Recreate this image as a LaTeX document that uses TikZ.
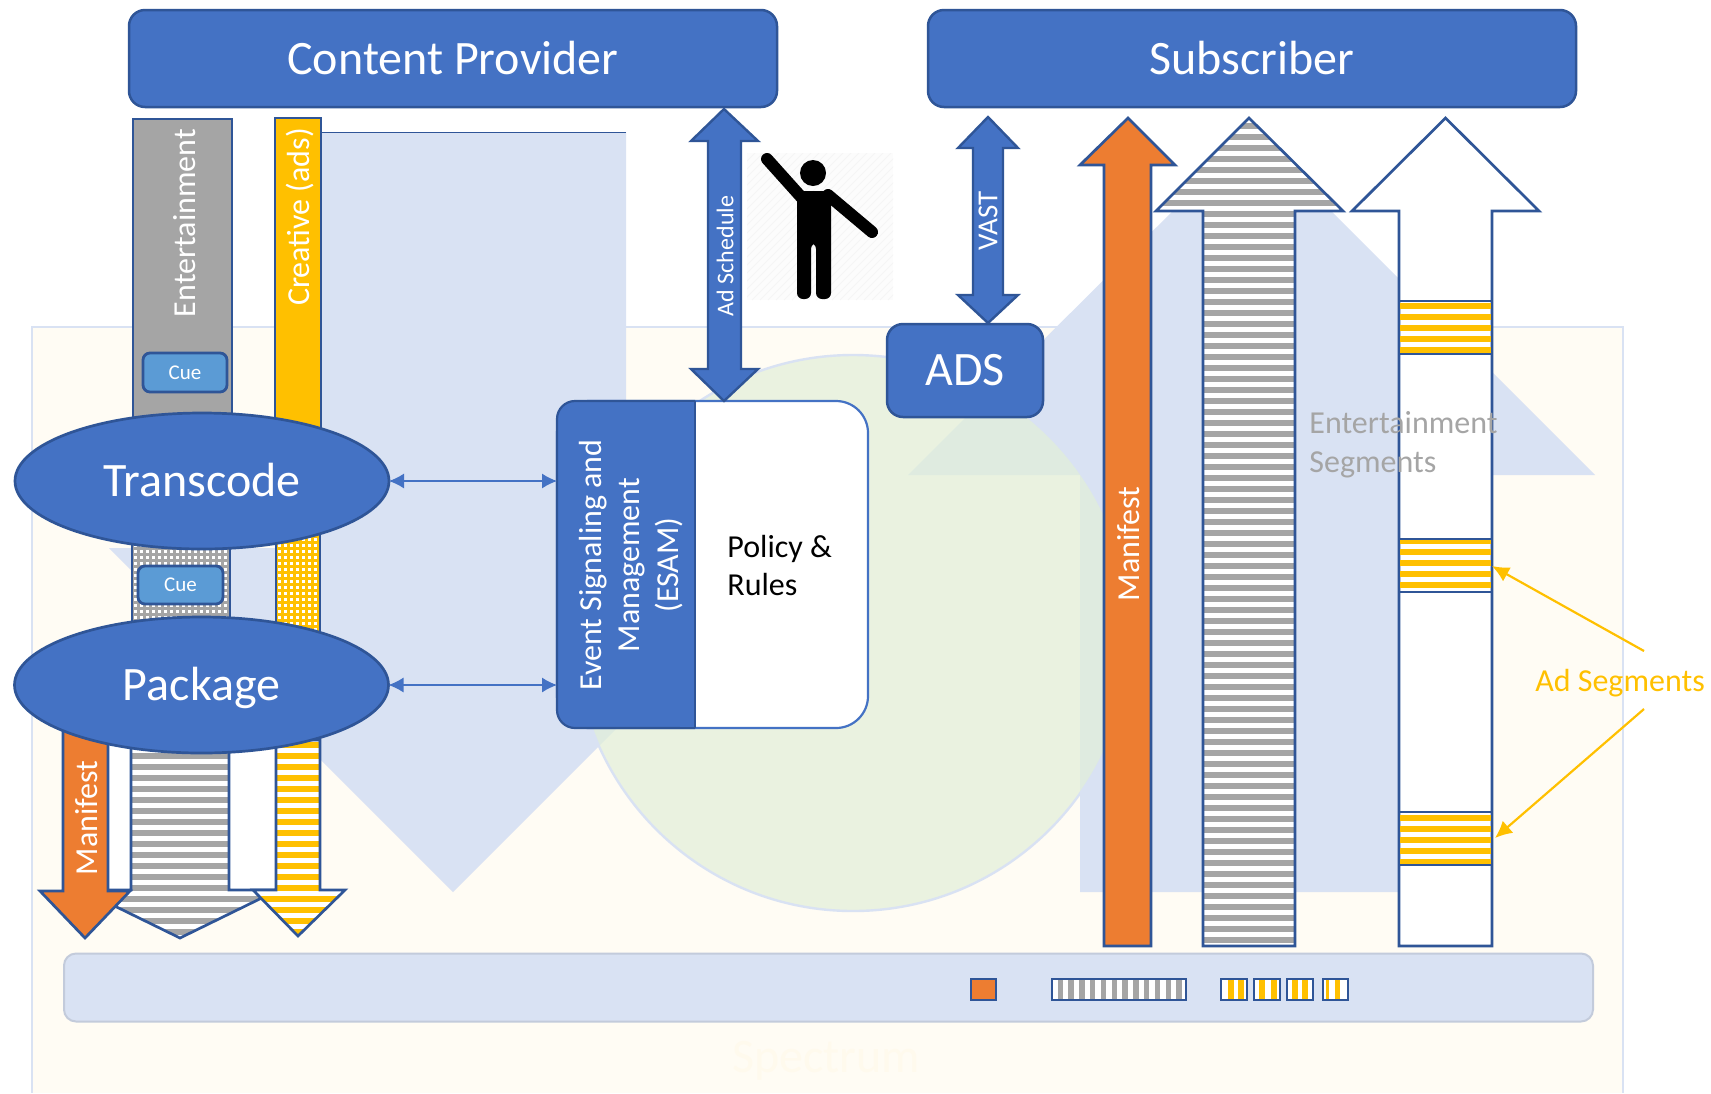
\documentclass[tikz,border=0pt]{standalone}
\usepackage{fontspec}
\setmainfont{Carlito}
\usetikzlibrary{arrows.meta,shapes.geometric,calc}
\definecolor{bdr}{HTML}{2F5597}
\definecolor{blu}{HTML}{4472C4}
\definecolor{lblu}{HTML}{D9E2F3}
\definecolor{cue}{HTML}{5B9BD5}
\definecolor{gry}{HTML}{A5A5A5}
\definecolor{org}{HTML}{ED7D31}
\definecolor{yel}{HTML}{FFC000}
\definecolor{crm}{HTML}{FFFCF4}
\definecolor{grn}{HTML}{E2EFD9}
\newcommand\fs[2][0]{\fontsize{#2}{#2}\selectfont}
\newcommand\hbands[6]{% colour, x0, x1, ystart, yend, height
  \pgfmathsetmacro\fstv{#4}\pgfmathsetmacro\lstv{#5}\pgfmathsetmacro\nxt{\fstv+11}%
  \foreach \yy in {\fstv,\nxt,...,\lstv}{\fill[#1] (#2,\yy-#6/2) rectangle (#3,\yy+#6/2);}}
\newcommand\dotgrid[4]{% x0,x1,y0,y1
  \pgfmathsetmacro\nxa{#1+6}\pgfmathsetmacro\nya{#3+6}%
  \foreach \xx in {#1,\nxa,...,#2}{\foreach \yy in {#3,\nya,...,#4}{\fill[white] (\xx-1.5,\yy-1.5) rectangle (\xx+1.5,\yy+1.5);}}}
\tikzset{
  bar/.style={draw=bdr,line width=1.35pt,line join=miter},
  proc/.style={ellipse,draw=bdr,fill=blu,line width=1.35pt,text=white,minimum width=187pt,minimum height=68pt,inner sep=0pt,outer sep=0pt,font=\fs{24},text height=15pt,text depth=0pt},
  headbox/.style={rectangle,rounded corners=8pt,draw=bdr,fill=blu,line width=1.25pt,text=white,inner sep=0pt,outer sep=0pt,font=\fs{24}},
  cuebox/.style={rectangle,rounded corners=3.5pt,draw=bdr,fill=cue,line width=1.4pt,text=white,inner sep=0pt,font=\fs{10.5}},
  wtxt/.style={text=white,inner sep=0pt,font=\fs{16}},
  twolines/.style={inner sep=0pt,font=\fontsize{16}{19.3}\selectfont},
  thinarrow/.style={draw=blu,line width=.6pt,{Latex[length=7.5pt,width=7.5pt]}-{Latex[length=7.5pt,width=7.5pt]}},
  yelarrow/.style={draw=yel,line width=1.1pt,-{Latex[length=8.5pt,width=8pt]}},
  small/.style={draw=bdr,line width=1.4pt},
}
\def\pManR{(1128,118)--(1175,165)--(1151,165)--(1151,946)--(1104,946)--(1104,165)--(1080,165)--cycle}
\def\pGryR{(1249,118)--(1343,211)--(1295,211)--(1295,946)--(1203,946)--(1203,211)--(1156,211)--cycle}
\def\pWhtR{(1445.5,118)--(1539,211)--(1492,211)--(1492,946)--(1399,946)--(1399,211)--(1352,211)--cycle}
\def\pGryL{(131,740)--(229,740)--(229,890)--(278,890)--(180,938)--(82,890)--(131,890)--cycle}
\def\pYelL{(276,740)--(320,740)--(320,890)--(345,890)--(298,936)--(253,890)--(276,890)--cycle}
\def\pManL{(63,720)--(108,720)--(108,891)--(130,891)--(85,938)--(40,891)--(63,891)--cycle}
\begin{document}
\begin{tikzpicture}[x=0.5pt,y=-0.5pt]
\useasboundingbox (0,0) rectangle (1711,1093);
\fill[white] (0,0) rectangle (1711,1093);
% backdrop
\fill[crm] (32,327) rectangle (1623,1093);
\draw[lblu,line width=1.4pt] (32,1093)--(32,327)--(1623,327)--(1623,1093);
\node[text=crm!97!yel,inner sep=0pt,font=\fs{24}] (spectrum) at (826,1061) {Spectrum};
\fill[lblu] (279,132)--(626,132)--(626,548)--(797,548)--(453,892)--(109,548)--(279,548)--cycle;
\draw[bdr,line width=.5pt] (321,132)--(626,132);
\fill[lblu] (1252,132)--(1595,475)--(1423,475)--(1423,892)--(1080,892)--(1080,475)--(908,475)--cycle;
\fill[grn,fill opacity=.72] (853,633) circle [radius=139pt];
\draw[lblu,line width=1.2pt] (853,633) circle [radius=139pt];
\node[rectangle,rounded corners=6pt,draw=black!10!lblu,fill=lblu,line width=1pt,minimum width=764.5pt,minimum height=34pt,inner sep=0pt] (spectrumbar) at (828.5,987.5) {};
% left column
\draw[bar,fill=gry] (133,119) rectangle (232,470);
\draw[bar,fill=yel] (275,118) rectangle (321,470);
\node[wtxt,rotate=90] (entlabel) at (185,223) {Entertainment};
\node[wtxt,rotate=90] (crelabel) at (300,217) {Creative (ads)};
\node[cuebox,minimum width=42pt,minimum height=19.5pt] (cue1) at (185,372.5) {Cue};
% dotted bars
\begin{scope}
\clip (132,530) rectangle (230,630);
\fill[gry] (132,530) rectangle (230,630);
\dotgrid{135}{230}{533}{630}
\end{scope}
\draw[bar] (132,530)--(132,630) (230,530)--(230,630);
\begin{scope}
\clip (276,530) rectangle (320,640);
\fill[yel] (276,530) rectangle (320,640);
\dotgrid{279}{320}{533}{640}
\end{scope}
\draw[bar] (276,530)--(276,640) (320,530)--(320,640);
\node[cuebox,minimum width=42.5pt,minimum height=19pt] (cue2) at (180.5,585) {Cue};
% lower left arrows
\fill[white] (108,740) rectangle (276,890);
\begin{scope}\clip \pGryL; \fill[white] (60,730) rectangle (300,945); \hbands{gry}{60}{300}{723}{945}{5.5}\end{scope}
\draw[bar] \pGryL;
\begin{scope}\clip \pYelL; \fill[white] (240,730) rectangle (360,945); \hbands{yel}{240}{360}{723}{945}{5.5}\end{scope}
\draw[bar] \pYelL;
\draw[bar,fill=org] \pManL;
\node[wtxt,rotate=90] (manl) at (87,818) {Manifest};
\node[proc] (transcode) at (202,481) {Transcode};
\node[proc] (package) at (201.5,685) {Package};
% ESAM
\node[rectangle,rounded corners=16pt,draw=blu,fill=white,line width=1.1pt,minimum width=155.5pt,minimum height=163.5pt,inner sep=0pt,outer sep=0pt] (esam) at (712.5,564.5) {};
\filldraw[blu,draw=bdr,line width=1.1pt,rounded corners=9pt] (695,401)--(557,401)--(557,728)--(695,728);
\fill[blu] (680,401.5) rectangle (695,727.5);
\draw[bdr,line width=1.1pt] (695,401)--(695,728) (680,401)--(695,401) (680,728)--(695,728);
\node[text=white,rotate=90,align=center,twolines] (esamlabel) at (631,565) {Event Signaling and\\ Management\\ (ESAM)};
\node[text=black,align=left,anchor=west,twolines] (policy) at (727,565.5) {Policy \&\\ Rules};
\draw[thinarrow] (transcode.east) -- (transcode.east -| esam.west);
\draw[thinarrow] (package.east) -- (package.east -| esam.west);
% top boxes
\node[headbox,minimum width=324pt,minimum height=48.5pt] (provider) at (453,58.5) {Content Provider};
\node[headbox,minimum width=324pt,minimum height=48.5pt] (subscriber) at (1252,58.5) {Subscriber};
\node[headbox,minimum width=78pt,minimum height=46.5pt,text height=15pt,text depth=0pt] (ads) at (965,370.5) {ADS};
% double arrows
\draw[bar,fill=blu,line width=1.2pt] (724,109)--(758,141)--(741,141)--(741,369)--(758,369)--(724,401)--(691,369)--(708,369)--(708,141)--(691,141)--cycle;
\node[text=white,rotate=90,inner sep=0pt,font=\fs{12}] (adsched) at (725,256) {Ad Schedule};
\draw[bar,fill=blu,line width=1.2pt] (988,117)--(1018,148)--(1003,148)--(1003,295)--(1018,295)--(988,323)--(958,295)--(973,295)--(973,148)--(958,148)--cycle;
\node[text=white,rotate=90,inner sep=0pt,font=\fs{14.5}] (vast) at (988,221) {VAST};
% person
\begin{scope}
\clip (747,153) rectangle (893,300);
\fill[black!1] (747,153) rectangle (893,300);
\foreach \hx in {600,608,...,900}{\draw[black!4,line width=.4pt] (\hx,300)--(\hx+147,153);}
\end{scope}
\fill[black,rounded corners=3pt] (797,191)--(831,191)--(831,299)--(816,299)--(816,243)--(811,243)--(811,299)--(797,299)--cycle;
\fill[black] (813,173) circle [radius=6.5pt];
\draw[black,line width=6pt,line cap=round] (767,159)--(802,198);
\draw[black,line width=6pt,line cap=round] (828,195)--(872,232);
% right arrows
\draw[bar,fill=org] \pManR;
\node[wtxt,rotate=90] (manr) at (1129,544) {Manifest};
\begin{scope}\clip \pGryR; \fill[white] (1150,110) rectangle (1350,950); \hbands{gry}{1150}{1350}{126}{950}{5.5}\end{scope}
\draw[bar] \pGryR;
\draw[bar,fill=white] \pWhtR;
\foreach \st/\off in {301/5,539/2,812/6}{
  \begin{scope}
  \clip (1399,\st) rectangle (1492,\st+53);
  \hbands{yel}{1399}{1492}{\st+\off}{\st+53}{5.2}
  \end{scope}
  \draw[bar,line width=1.1pt] (1399,\st) rectangle (1492,\st+53);
}
\coordinate (seg2) at (1492,566);
\coordinate (seg3) at (1495,838);
\node[text=gry,align=left,anchor=west,twolines] (entseg) at (1309,444.5) {Entertainment\\ Segments};
\node[text=yel,inner sep=0pt,font=\fs{16}] (adseg) at (1620,683) {Ad Segments};
\coordinate (adfrom1) at (1644,651);
\coordinate (adfrom2) at (1644,709);
\draw[yelarrow] (adfrom1) -- (seg2);
\draw[yelarrow] (adfrom2) -- (seg3);
% small boxes in the bar
\draw[small,fill=org] (971,979) rectangle (996,1000);
\fill[white] (1052,979) rectangle (1186,1000);
\foreach \xx in {1057.5,1068.3,...,1180}{\fill[gry] (\xx,979) rectangle (\xx+5.4,1000);}
\draw[small] (1052,979) rectangle (1186,1000);
\fill[white] (1221,979) rectangle (1247,1000);\fill[yel] (1228,979) rectangle (1233.5,1000);\fill[yel] (1238,979) rectangle (1244,1000);
\draw[small] (1221,979) rectangle (1247,1000);
\fill[white] (1254,979) rectangle (1280,1000);\fill[yel] (1259,979) rectangle (1264.5,1000);\fill[yel] (1271,979) rectangle (1277,1000);
\draw[small] (1254,979) rectangle (1280,1000);
\fill[white] (1287,979) rectangle (1313,1000);\fill[yel] (1292,979) rectangle (1298,1000);\fill[yel] (1302,979) rectangle (1308,1000);
\draw[small] (1287,979) rectangle (1313,1000);
\fill[white] (1323,979) rectangle (1348,1000);\fill[yel] (1326,979) rectangle (1329,1000);\fill[yel] (1335,979) rectangle (1340,1000);
\draw[small] (1323,979) rectangle (1348,1000);
\end{tikzpicture}
\end{document}
